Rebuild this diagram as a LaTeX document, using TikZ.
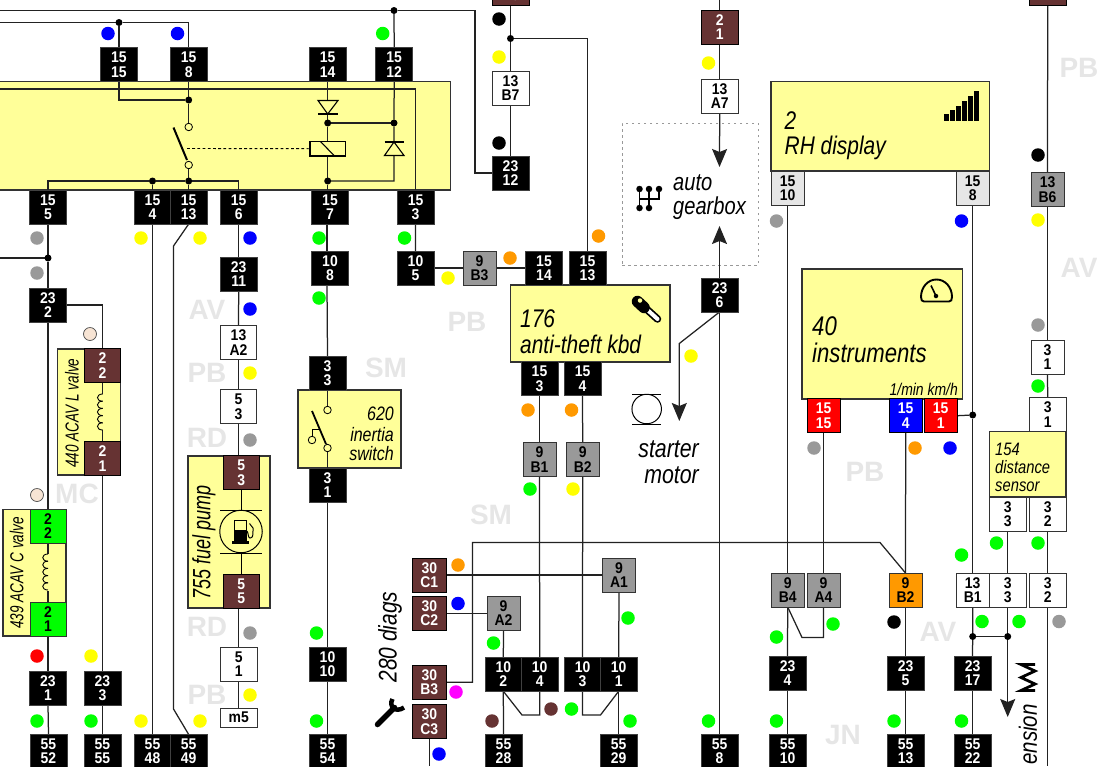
\documentclass[tikz,border=0pt]{standalone}
\usepackage{fontspec}
\usetikzlibrary{arrows.meta}
\newfontfamily\pinf{Liberation Sans}[FakeStretch=0.9]
\newfontfamily\lblf{Liberation Sans}[FakeStretch=0.82]
\newfontfamily\lblg{Liberation Sans}[FakeStretch=0.72]
\newfontfamily\wmf{Liberation Sans}
\definecolor{boxy}{HTML}{FFFF99}
\definecolor{brn}{HTML}{663333}
\definecolor{gry}{HTML}{999999}
\definecolor{lgry}{HTML}{E6E6E6}
\definecolor{grn}{HTML}{00FF00}
\definecolor{blu}{HTML}{0000FF}
\definecolor{rd}{HTML}{FF0000}
\definecolor{org}{HTML}{FF9900}
\definecolor{yel}{HTML}{FFFF00}
\definecolor{mag}{HTML}{FF00FF}
\definecolor{bei}{HTML}{F7E4D4}
\definecolor{wire}{HTML}{222222}
\definecolor{wm}{HTML}{E6E6E6}
\pgfdeclarelayer{bg}
\pgfdeclarelayer{wr}
\pgfsetlayers{bg,wr,main}
\tikzset{
  pinnode/.style={rectangle,inner sep=0pt,outer sep=0pt,minimum height=34pt,minimum width=37pt,align=center,
    line width=0.9pt,font=\pinf\bfseries\fontsize{15.5}{14.5}\selectfont},
  pk/.style={pinnode,fill=black,draw=black!75,text=white},
  pbot/.style={pk,minimum height=33pt},
  pbr/.style={pinnode,fill=brn,draw=black,text=white,minimum width=33.5pt},
  pg/.style={pinnode,fill=gry,draw=black!80,text=black,minimum width=33pt},
  pw/.style={pinnode,fill=white,draw=black!80,text=black},
  pl/.style={pinnode,fill=lgry,draw=black!80,text=black,minimum width=33pt},
  pgr/.style={pinnode,fill=grn,draw=black!80,text=black,minimum width=36pt},
  pr/.style={pinnode,fill=rd,draw=black,text=white,minimum width=33pt},
  pb/.style={pinnode,fill=blu,draw=black,text=white,minimum width=33pt},
  po/.style={pinnode,fill=org,draw=black!80,text=black,minimum width=33pt},
  ybox/.style={fill=boxy,draw=black!80,line width=1.1pt,inner sep=0pt,outer sep=0pt,rectangle},
  wl/.style={draw=wire,line width=1.25pt},
  sig/.style={circle,inner sep=0pt,outer sep=0pt,minimum size=13.5pt},
  jn/.style={circle,fill=black,inner sep=0pt,outer sep=0pt,minimum size=7pt},
  wmk/.style={text=wm,font=\wmf\bfseries\fontsize{28}{28}\selectfont,inner sep=0pt},
  lbl/.style={font=\lblf\itshape\fontsize{#1}{#1}\selectfont,inner sep=0pt,text=black},
  lbn/.style={font=\lblg\itshape\fontsize{#1}{#1}\selectfont,inner sep=0pt,text=black},
  opn/.style={circle,fill=boxy,draw=black,line width=0.8pt,inner sep=0pt,minimum size=7.5pt},
  arw/.style={-{Stealth[length=18pt,width=15pt,inset=3pt]}},
}
\newcommand\pin[6][pk]{\node[#1] (#2) at (#3,#4) {#5\\#6};}
\newcommand\coilv[2]{%
  \foreach \k in {0,1,2,3,4}{\draw[line width=0.9pt,black] (#1,{#2+\k*7.2}) .. controls ({#1-7},{#2+\k*7.2}) and ({#1-7},{#2+\k*7.2+7.2}) .. (#1,{#2+\k*7.2+7.2});}}
\begin{document}
\begin{tikzpicture}[x=1pt,y=-1pt]
\useasboundingbox (0,0) rectangle (1097,766);
% ---------------------------------------------------------- watermarks
\begin{pgfonlayer}{bg}
\foreach \t/\x/\y [count=\i] in {PB/1079/68,AV/1079/268,AV/207/310,PB/207/373,RD/207/438,MC/77/494,RD/207/627,PB/207/695,SM/386/368,PB/467/322,SM/491/515,PB/865/472,AV/938/632,JN/843/735}
  \node[wmk] (wm\i) at (\x,\y) {\t};
% ---------------------------------------------------------- yellow boxes
\node[ybox,minimum width=452pt,minimum height=108.5pt] (relay) at (224.5,135.75) {};
\node[ybox,minimum width=63pt,minimum height=126pt] (b440) at (89,412) {};
\node[ybox,minimum width=63pt,minimum height=126.5pt] (b439) at (34.5,572.75) {};
\node[ybox,minimum width=82pt,minimum height=152pt] (b755) at (229,532) {};
\node[ybox,minimum width=103pt,minimum height=78pt] (b620) at (349.5,429) {};
\node[ybox,minimum width=159.5pt,minimum height=77pt] (b176) at (590.25,323.5) {};
\node[ybox,minimum width=218.5pt,minimum height=89.5pt] (b2) at (880.25,126.25) {};
\node[ybox,minimum width=160.5pt,minimum height=130pt] (b40) at (882.25,334) {};
\node[ybox,minimum width=76.5pt,minimum height=65.5pt] (b154) at (1027.75,464.25) {};
\node[draw=gry,dashed,dash pattern=on 2.5pt off 3.5pt,line width=1pt,minimum width=136pt,minimum height=142pt,inner sep=0pt] (boxgear) at (690,194) {};
\end{pgfonlayer}
% ---------------------------------------------------------- pins
\pin{a1515}{119}{64.5}{15}{15}
\pin{a158}{188.7}{64.5}{15}{8}
\pin{a1514}{327.7}{64.5}{15}{14}
\pin{a1512}{394.2}{64.5}{15}{12}
\pin{a155}{48}{207}{15}{5}
\pin{a154}{152.5}{207}{15}{4}
\pin{a1513}{188.7}{207}{15}{13}
\pin{a156}{238.7}{207}{15}{6}
\pin{a157}{330}{207}{15}{7}
\pin{a153}{415.6}{207}{15}{3}
\pin{c232}{48}{305}{23}{2}
\pin[pbr,minimum width=36pt]{c222}{102.5}{365.5}{2}{2}
\pin[pbr,minimum width=36pt]{c221}{102.5}{458.5}{2}{1}
\pin[pgr]{d222}{48}{526.2}{2}{2}
\pin[pgr]{d221}{48}{619}{2}{1}
\pin{e231}{48}{688}{23}{1}
\pin{e233}{102.5}{688}{23}{3}
\pin[pbot]{f5552}{48.5}{751}{55}{52}
\pin[pbot]{f5555}{102.5}{751}{55}{55}
\pin[pbot]{f5548}{152.5}{751}{55}{48}
\pin[pbot]{f5549}{188.7}{751}{55}{49}
\pin{g2311}{238.7}{274}{23}{11}
\pin[pw,minimum width=36pt]{g13a2}{238.5}{342.5}{13}{A2}
\pin[pw,minimum width=36pt]{g53}{238.5}{406.5}{5}{3}
\pin[pbr,minimum width=36.5pt]{g53b}{241.2}{472.7}{5}{3}
\pin[pbr,minimum width=36.5pt]{g55b}{241.2}{591.3}{5}{5}
\pin[pw,minimum width=36.5pt]{g51}{238.7}{664}{5}{1}
\node[pw,minimum height=19pt,minimum width=36.5pt] (gm5) at (238.7,717.5) {m5};
\pin{h108}{330}{268}{10}{8}
\pin{h33}{327.5}{373}{3}{3}
\pin{h31}{327.5}{485}{3}{1}
\pin{h1010}{327.5}{664}{10}{10}
\pin[pbot]{h5554}{327.5}{751}{55}{54}
\pin{i105}{415.5}{268}{10}{5}
\pin[pg]{i9b3}{479.5}{268}{9}{B3}
\pin{i1514}{544}{268}{15}{14}
\pin{i1513}{587.5}{268}{15}{13}
\pin{j153}{539.5}{378.5}{15}{3}
\pin{j154}{582.5}{378.5}{15}{4}
\pin[pg]{j9b1}{539.5}{459.5}{9}{B1}
\pin[pg]{j9b2}{582.7}{459.5}{9}{B2}
\pin[pbr,fill=brn,minimum width=33.5pt]{k30c1}{429.3}{575}{30}{C1}
\pin[pbr,minimum width=33.5pt]{k30c2}{429.3}{613.3}{30}{C2}
\pin[pbr,minimum width=33.5pt]{k30b3}{429.3}{682.3}{30}{B3}
\pin[pbr,minimum width=33.5pt]{k30c3}{429.3}{721.7}{30}{C3}
\pin[pg]{k9a2}{503.5}{613.3}{9}{A2}
\pin[pg]{k9a1}{619}{575}{9}{A1}
\pin[pk,minimum width=36.5pt]{l102}{503.3}{674.2}{10}{2}
\pin[pk,minimum width=36.5pt]{l104}{539.7}{674.2}{10}{4}
\pin[pk,minimum width=36.5pt]{l103}{582.5}{674.2}{10}{3}
\pin[pk,minimum width=36.5pt]{l101}{618.7}{674.2}{10}{1}
\pin[pbot]{m5528}{503.5}{751}{55}{28}
\pin[pbot]{m5529}{618.7}{751}{55}{29}
\pin[pbot]{m558}{719.5}{751}{55}{8}
\pin[pbr,minimum width=37pt]{n13a5}{510.5}{-12}{\phantom{13}}{A5}
\pin[pw]{n13b7}{510.5}{88}{13}{B7}
\pin{n2312}{510.5}{173}{23}{12}
\pin[pbr,minimum width=37pt]{o21}{719.7}{27.2}{2}{1}
\pin[pw]{o13a7}{719.7}{96.3}{13}{A7}
\pin{o236}{719.5}{295}{23}{6}
\pin[pl]{q1510}{787.7}{188}{15}{10}
\pin[pl]{q158}{972.7}{188}{15}{8}
\pin[pr]{q1515}{823.5}{415.7}{15}{15}
\pin[pb]{q154}{905.7}{415.7}{15}{4}
\pin[pr]{q151}{940.7}{415.7}{15}{1}
\pin[pg]{r9b4}{787.7}{590}{9}{B4}
\pin[pg]{r9a4}{823.5}{590}{9}{A4}
\pin[po]{r9b2}{905.5}{590}{9}{B2}
\pin[pw,minimum width=33.5pt]{r13b1}{972.7}{590}{13}{B1}
\pin[pw,minimum width=36.5pt]{r33}{1007.7}{590}{3}{3}
\pin[pw,minimum width=36.5pt]{r32}{1047.7}{590}{3}{2}
\pin{s234}{787.5}{673}{23}{4}
\pin{s235}{905.5}{673}{23}{5}
\pin{s2317}{972.5}{673}{23}{17}
\pin[pbot]{t5510}{787.5}{751}{55}{10}
\pin[pbot]{t5513}{905.5}{751}{55}{13}
\pin[pbot]{t5522}{972.5}{751}{55}{22}
\pin[pbr,minimum width=37pt]{u13a1}{1047.7}{-12}{\phantom{13}}{A1}
\pin[pg]{u13b6}{1047.5}{189.5}{13}{B6}
\pin[pw,minimum width=33pt]{u31a}{1047.5}{357.2}{3}{1}
\pin[pw,minimum width=36.5pt]{u31b}{1047.7}{414.7}{3}{1}
\pin[pw,minimum width=36.5pt]{u33}{1007.7}{514}{3}{3}
\pin[pw,minimum width=36.5pt]{u32}{1047.7}{514}{3}{2}
% ---------------------------------------------------------- junctions
\node[jn] (ja) at (394,10.5) {};
\node[jn] (jb) at (119,22.5) {};
\node[jn] (jc) at (188.7,100) {};
\node[jn] (jd) at (327.7,123) {};
\node[jn] (je) at (394,123) {};
\node[jn] (jf) at (152.5,181) {};
\node[jn] (jg) at (188.7,181) {};
\node[jn] (jh) at (327.7,181) {};
\node[jn] (ji) at (48,258) {};
\node[jn] (jj) at (510.5,38.5) {};
\node[jn] (jk) at (972.7,415) {};
\node[jn] (jl) at (972.7,636.5) {};
\node[jn] (jm) at (1007.7,636.5) {};
% ---------------------------------------------------------- free ends
\coordinate (lA) at (0,10.5);
\coordinate (lB) at (0,22.5);
\coordinate (lC) at (0,89);
\coordinate (lD) at (0,258);
\coordinate (tR) at (475,10.5);
\coordinate (tS) at (475,173);
\coordinate (bB) at (1047.7,766);
\coordinate (dia2) at (394,149);
\node[opn] (c1) at (188.7,127) {};
\node[opn] (c2) at (188.7,165) {};
\node[rectangle,draw=black,line width=1.1pt,fill=boxy,minimum width=35.5pt,minimum height=14.5pt,inner sep=0pt,outer sep=0pt] (coil) at (327.7,148.7) {};
\node[opn] (c3) at (327.5,410) {};
\node[opn] (c4) at (327.5,448) {};
\node[opn] (c5) at (312,440) {};
% ---------------------------------------------------------- wires
\begin{pgfonlayer}{wr}
\draw[wl] (lA) -- (ja) -- (tR) -- (tS) -- (n2312.west);
\draw[wl] (ja) -- (a1512.north);
\draw[wl] (lB) -- (jb) -- (188.7,22.5) -- (a158.north);
\draw[wl] (jb) -- (a1515.north);
\draw[wl] (a1515.south) -- (119,100) -- (jc);
\draw[wl] (a158.south) -- (jc) -- (c1);
\draw[wl] (c2) -- (jg) -- (a1513.north);
\draw[wl] (a155.north) -- (48,181) -- (jf) -- (jg) -- (238.7,181) -- (a156.north);
\draw[wl] (jf) -- (a154.north);
\draw[wl] (lC) -- (415.6,89) -- (a153.north);
\draw[wl] (a1514.south) -- (jd) -- (coil.north);
\draw[wl] (coil.south) -- (jh) -- ([xshift=-2.3]a157.north);
\draw[wl] (jd) -- (je);
\draw[wl] (a1512.south) -- (je) -- (dia2) -- (394,181) -- (jh);
\draw[wl] (a155.south) -- (ji) -- (c232.north);
\draw[wl] (lD) -- (ji);
\draw[wl] (c232.east) -- (102.5,305) -- (c222.north);
\draw[wl] (c222.south) -- (102.5,394);
\draw[wl] (c221.north) -- (102.5,430);
\draw[wl] (c232.south) -- (d222.north);
\draw[wl] (d222.south) -- (48,554);
\draw[wl] (d221.north) -- (48,591);
\draw[wl] (d221.south) -- (e231.north);
\draw[wl] (c221.south) -- (e233.north);
\draw[wl] (e231.south) -- (f5552.north);
\draw[wl] (e233.south) -- (f5555.north);
\draw[wl] (a154.south) -- (f5548.north);
\draw[wl] (a1513.south) -- (173.5,246) -- (173.5,709) -- (f5549.north);
\draw[wl] (a156.south) -- (g2311.north);
\draw[wl] (g2311.south) -- (g13a2.north);
\draw[wl] (g13a2.south) -- (g53.north);
\draw[wl] (g53.south) -- (238.5,456);
\draw[wl] (g53b.south) -- (g55b.north);
\draw[wl] (238.7,608) -- (g51.north);
\draw[wl] (g51.south) -- (gm5.north);
\draw[wl] ([xshift=-3]a157.south) -- ([xshift=-3]h108.north);
\draw[wl] ([xshift=-3]h108.south) -- (h33.north);
\draw[wl] (h33.south) -- (c3);
\draw[wl] (c4) -- (h31.north);
\draw[wl] (h31.south) -- (h1010.north);
\draw[wl] (h1010.south) -- (h5554.north);
\draw[wl] (a153.south) -- (i105.north);
\draw[wl] (i105.east) -- (i9b3.west);
\draw[wl] (i9b3.east) -- (i1514.west);
\draw[wl] (i1513.north) -- (587.5,38.5) -- (jj);
\draw[wl] (n13a5.south) -- (jj) -- (n13b7.north);
\draw[wl] (n13b7.south) -- (n2312.north);
\draw[wl] (j153.south) -- (j9b1.north);
\draw[wl] (j154.south) -- (j9b2.north);
\draw[wl] (j9b1.south) -- (l104.north);
\draw[wl] (j9b2.south) -- (l103.north);
\draw[wl] (k30c1.east) -- (k9a1.west);
\draw[wl] (k30c2.east) -- (k9a2.west);
\draw[wl] (k30b3.east) -- (472.5,682.3) -- (472.5,542.5) -- (880,542.5) -- (r9b2.north);
\draw[wl] (k9a2.south) -- (l102.north);
\draw[wl] (k9a1.south) -- (l101.north);
\draw[wl] (l102.south) -- (m5528.north);
\draw[wl] (l102.south) -- (522,715) -- (539.7,715) -- (l104.south);
\draw[wl] (l103.south) -- (582.5,715) -- (600.5,715) -- (l101.south);
\draw[wl] (l101.south) -- (m5529.north);
\draw[wl] (k30c3.south) -- (429.3,766);
\draw[wl] (o236.south) -- (m558.north);
\draw[wl,arw] (o236.north) -- (719.5,226);
\draw[wl,arw] (o13a7.south) -- (719.5,167);
\draw[wl] (o21.south) -- (o13a7.north);
\draw[wl] (o21.north) -- (719.7,0);
\draw[wl,arw] (o236.south) -- (679.3,343.5) -- (679.3,421);
\draw[wl] (q1510.south) -- (r9b4.north);
\draw[wl] (q158.south) -- (jk) -- (r13b1.north);
\draw[wl] (q151.east) -- (jk);
\draw[wl] (q1515.south) -- (r9a4.north);
\draw[wl] (q154.south) -- (r9b2.north);
\draw[wl] (r9b4.south) -- (s234.north);
\draw[wl] (r9b4.south) -- (802,637.5) -- (823.5,637.5) -- (r9a4.south);
\draw[wl] (s234.south) -- (t5510.north);
\draw[wl] (r9b2.south) -- (s235.north);
\draw[wl] (s235.south) -- (t5513.north);
\draw[wl] (r13b1.south) -- (jl) -- (s2317.north);
\draw[wl] (s2317.south) -- (t5522.north);
\draw[wl] (jl) -- (jm);
\draw[wl] (r33.south) -- (jm);
\draw[wl,arw] (jm) -- (1007.7,717);
\draw[wl] (r32.south) -- (bB);
\draw[wl] (u33.south) -- (r33.north);
\draw[wl] (u32.south) -- (r32.north);
\draw[wl] (u13a1.south) -- (u13b6.north);
\draw[wl] (u13b6.south) -- (u31a.north);
\draw[wl] (u31a.south) -- (u31b.north);
\end{pgfonlayer}
% ---------------------------------------------------------- relay symbols
\draw[line width=2pt,black] (173.5,127.5) -- (187,160);
\draw[dashed,dash pattern=on 2.8pt off 2.4pt,line width=0.9pt,black] (187,148.5) -- (coil.west);
\draw[line width=1.1pt,black] (320.5,141.5) -- (334.5,156);
\draw[line width=1.1pt,black,fill=boxy] (318,100.5) -- (338,100.5) -- (327.7,114) -- cycle;
\draw[line width=1.1pt,black] (318,114) -- (338,114);
\draw[line width=1.1pt,black,fill=boxy] (384.5,155.5) -- (404,155.5) -- (394,142) -- cycle;
\draw[line width=1.1pt,black] (384.5,142) -- (404,142);
% inertia switch
\draw[line width=1.8pt,black] (312,411) -- (326,444);
\draw[line width=0.9pt,black] (c5.north) -- (312,429) -- (319.5,429);
% coils
\coilv{102.7}{394}
\coilv{48}{554}
% fuel pump symbol
\draw[line width=1pt,black] (241,489.5) -- (241,510);
\draw[line width=1pt,black] (241,553) -- (241,575);
\draw[line width=1pt,black] (220,510) -- (262,510);
\draw[line width=1pt,black] (220,553) -- (262,553);
\node[circle,draw=black,line width=1pt,fill=boxy,minimum size=42.5pt,inner sep=0pt] (pumpc) at (241,531.5) {};
\draw[line width=1pt,black,fill=boxy] (234,520) rectangle (246,531);
\fill[black] (233.5,530) rectangle (246.7,541);
\fill[black] (232,541) rectangle (248.5,543.5);
\draw[line width=1pt,black] (247,531) .. controls (248.5,533) and (248,538) .. (250,538) .. controls (253,538) and (253,535) .. (253,531) -- (253,528) -- (249.5,523.5);
% gear symbol
\draw[line width=1.7pt,black] (639.5,189) -- (639.5,208);
\draw[line width=1.7pt,black] (649,189) -- (649,208);
\draw[line width=1.7pt,black] (639.5,199) -- (659,199) -- (659,189);
\foreach \x/\y [count=\i] in {639.5/189,649/189,659/189,639.5/208,649/208}
  \node[circle,fill=black,minimum size=6.5pt,inner sep=0pt] (gd\i) at (\x,\y) {};
% signal bars
\foreach \x/\y [count=\i] in {944.3/114,950.3/110,956.3/105.5,962/100.5,967.7/96,973.7/91}
  \fill[black] (\x,121) rectangle ++(5,{\y-121});
% gauge
\draw[line width=1.9pt,black] (921,297) .. controls (921,287) and (928,279.5) .. (936.5,279.5) .. controls (945,279.5) and (952,287) .. (952,297) .. controls (952,300) and (951,301.5) .. (949,301.5) -- (924,301.5) .. controls (922,301.5) and (921,300) .. cycle;
\draw[line width=1.6pt,black] (931,285.5) -- (936,296);
\node[circle,fill=black,minimum size=4.5pt,inner sep=0pt] (gaugepin) at (936,296) {};
% key
\draw[line width=7.5pt,black,line cap=round] (647,309.5) -- (657.5,319);
\draw[line width=4pt,white,line cap=round] (647,309.5) -- (657.5,319);
\draw[line width=11.5pt,black,line cap=round] (637.5,301.5) -- (644,307.5);
\node[circle,fill=boxy,minimum size=4.5pt,inner sep=0pt] (keyhole) at (640,300.5) {};
% wrench
\draw[line width=5.5pt,black,line cap=round] (377.5,724.5) -- (394.5,707.5);
\draw[line width=4.5pt,black] (392.5,699) .. controls (388.5,706) and (395,713.5) .. (404,707.5);
% motor
\node[circle,draw=black,line width=1pt,minimum size=29.5pt,inner sep=0pt] (motor) at (646.7,409) {};
\draw[line width=1pt,black] (632,394) -- (661,394);
\draw[line width=1pt,black] (632,424) -- (661,424);
% spring
\draw[line width=2.8pt,black] (1035,664.5) -- (1021,664.5) -- (1035,671) -- (1021,677.5) -- (1035,684) -- (1021,690.5) -- (1035,690.5);
% ---------------------------------------------------------- signal dots
\foreach \x/\y/\c [count=\i] in {
 108/33.5/blu,177.5/33.5/blu,382.7/33.5/grn,
 37/238/gry,141/238/yel,200/238/yel,250/238/blu,319/238/grn,404.5/238/grn,
 37/273/gry,250/309/blu,250/373/yel,250/440/gry,319/298/grn,
 250/633/gry,250/695/yel,37/656/rd,91/656/yel,37/721/grn,91/721/grn,141/721/yel,200/721/yel,316.5/721/grn,316.5/633/grn,
 448/278/yel,510/258/org,598.5/236/org,528/410/org,571.5/410/org,530/489/grn,573/489/yel,
 458/565/org,458/603.5/blu,493.5/643/grn,456/692/mag,439/754/blu,628/618/grn,492/721/brn,551/709/brn,571.5/709/grn,630/721/grn,708.5/721/grn,
 499/19/black,499/57/yel,499/143/black,708.5/63/yel,691/356/yel,
 776.5/221/gry,961.5/221/blu,1038/155/black,1038/220/yel,1038/325/gry,1038/386/grn,
 814/448/gry,915/448/org,950/448/blu,961.5/555/grn,996.5/543/grn,1038/543/grn,982/621.5/grn,1019/621.5/grn,1059/621.5/gry,
 776.5/637/grn,833/624/grn,894/622/black,776.5/721/grn,894/721/grn,961.5/721/grn}
  \node[sig,fill=\c] (sg\i) at (\x,\y) {};
\node[sig,fill=bei,draw=black!70,line width=0.7pt,minimum size=13pt] (bea) at (90,334) {};
\node[sig,fill=bei,draw=black!70,line width=0.7pt,minimum size=13pt] (beb) at (37,495) {};
% ---------------------------------------------------------- labels
\node[lbn=18.8,rotate=90] (t440) at (72,413) {440 ACAV L valve};
\node[lbn=18.8,rotate=90] (t439) at (16.7,573) {439 ACAV C valve};
\node[lbn=25,rotate=90] (t755) at (204,542) {755 fuel pump};
\node[lbl=19.5,align=right,anchor=east,text width=70pt] (t620) at (394,434) {\baselineskip=21pt 620\\inertia\\switch};
\node[lbl=25.5,align=left,anchor=west] (t176) at (520,331.5) {\baselineskip=27pt 176\\anti-theft kbd};
\node[lbl=25.5,rotate=90] (t280) at (390,637) {280 diags};
\node[lbl=24.5,align=left,anchor=west] (tgear) at (673,197) {\baselineskip=27pt auto\\gearbox};
\node[lbl=26,align=right,anchor=east] (tstart) at (699,462) {\baselineskip=29.5pt starter\\motor};
\node[lbl=25.5,align=left,anchor=west] (trh) at (784.5,135.5) {\baselineskip=30pt 2\\RH display};
\node[lbl=27,align=left,anchor=west] (t40) at (812,340) {\baselineskip=30pt 40\\instruments};
\node[lbl=17,anchor=east] (tkm) at (958,389.5) {1/min km/h};
\node[lbl=18,align=left,anchor=west] (t154) at (995,467) {\baselineskip=18.3pt 154\\distance\\sensor};
\node[lbl=25,rotate=90,anchor=east] (tsus) at (1028,704) {ension};
\end{tikzpicture}
\end{document}
